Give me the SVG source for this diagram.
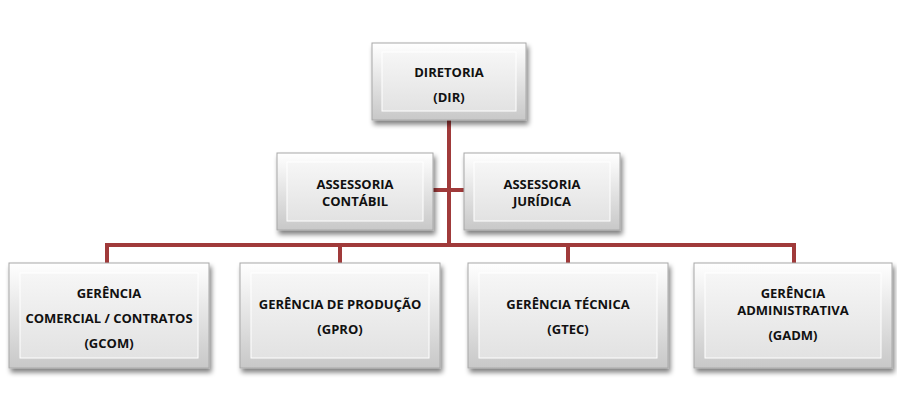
<svg xmlns="http://www.w3.org/2000/svg" width="897" height="413" viewBox="0 0 897 413">
<defs>
<linearGradient id="g" x1="0" y1="0" x2="0" y2="1"><stop offset="0" stop-color="#ffffff"/><stop offset="1" stop-color="#c8c8c8"/></linearGradient>
<linearGradient id="gi" x1="0" y1="0" x2="0" y2="1"><stop offset="0" stop-color="#f6f6f6"/><stop offset="1" stop-color="#e2e2e2"/></linearGradient>
<filter id="sh" x="-10%" y="-10%" width="125%" height="130%"><feGaussianBlur in="SourceAlpha" stdDeviation="2.5"/><feOffset dx="2" dy="4"/><feComponentTransfer><feFuncA type="linear" slope="0.5"/></feComponentTransfer><feMerge><feMergeNode/><feMergeNode in="SourceGraphic"/></feMerge></filter>
</defs>
<style>
.o{fill:url(#g);stroke:#a8a8a8;stroke-width:1;filter:url(#sh)}
.i{fill:url(#gi);stroke:#ffffff;stroke-width:1}
.t{font-family:"Open Sans","Liberation Sans",Arial,sans-serif;font-weight:bold;font-size:13px;fill:#111;text-anchor:middle}
.c{stroke:#a03a3a;stroke-width:4;fill:none}
</style>
<rect width="897" height="413" fill="#fff"/>
<g id="connectors">
<path class="c" d="M449 120V245M433 190H464M107 245H794M107 243V263M340 243V263M568 243V263M794 243V263"/>
</g>
<g id="dir"><rect class="o" x="372" y="43" width="154" height="77"/><rect class="i" x="382" y="52" width="134" height="59"/><text class="t" x="449" y="77">DIRETORIA</text><text class="t" x="449" y="102">(DIR)</text></g>
<g id="contabil"><rect class="o" x="277" y="153" width="156" height="77"/><rect class="i" x="287" y="162" width="136" height="59"/><text class="t" x="355" y="189">ASSESSORIA</text><text class="t" x="355" y="206">CONTÁBIL</text></g>
<g id="juridica"><rect class="o" x="464" y="153" width="156" height="77"/><rect class="i" x="474" y="162" width="136" height="59"/><text class="t" x="542" y="189">ASSESSORIA</text><text class="t" x="542" y="206">JURÍDICA</text></g>
<g id="gcom"><rect class="o" x="9" y="263" width="200" height="105"/><rect class="i" x="20" y="273" width="178" height="85"/><text class="t" x="109" y="298">GERÊNCIA</text><text class="t" x="109" y="323">COMERCIAL / CONTRATOS</text><text class="t" x="109" y="348">(GCOM)</text></g>
<g id="gpro"><rect class="o" x="240" y="263" width="200" height="105"/><rect class="i" x="251" y="273" width="178" height="85"/><text class="t" x="340" y="309">GERÊNCIA DE PRODUÇÃO</text><text class="t" x="340" y="334">(GPRO)</text></g>
<g id="gtec"><rect class="o" x="468" y="263" width="200" height="105"/><rect class="i" x="479" y="273" width="178" height="85"/><text class="t" x="568" y="309">GERÊNCIA TÉCNICA</text><text class="t" x="568" y="334">(GTEC)</text></g>
<g id="gadm"><rect class="o" x="694" y="263" width="198" height="105"/><rect class="i" x="705" y="273" width="176" height="85"/><text class="t" x="793" y="298">GERÊNCIA</text><text class="t" x="793" y="315">ADMINISTRATIVA</text><text class="t" x="793" y="340">(GADM)</text></g>
</svg>
